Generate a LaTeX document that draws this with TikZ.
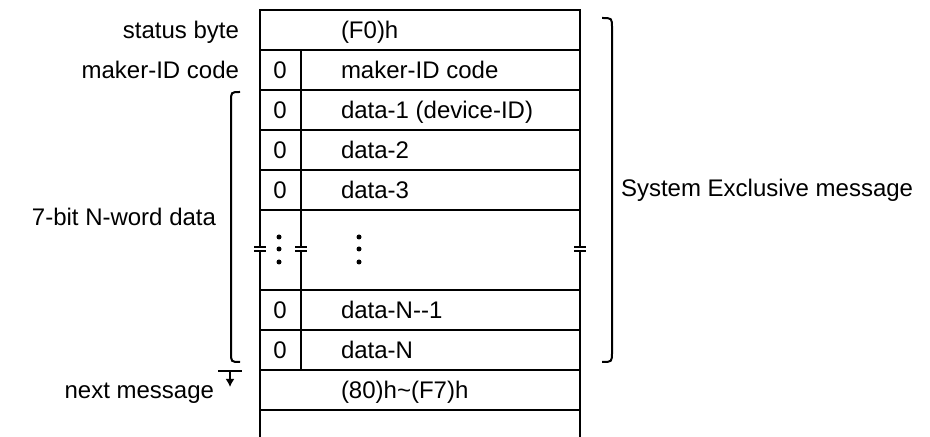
\documentclass[tikz,border=0pt]{standalone}
\usepackage{fontspec}
\setmainfont{Liberation Sans}
\usetikzlibrary{arrows.meta}

\tikzset{
  cell/.style={anchor=west,inner sep=0pt,text height=8.6pt,text depth=0pt},
  bit/.style={inner sep=0pt,text height=8.6pt,text depth=0pt},
  side/.style={anchor=east,inner sep=0pt,text height=8.6pt,text depth=0pt},
}

\begin{document}
\begin{tikzpicture}[x=0.5pt,y=-0.5pt,line width=1pt,font=\fontsize{12}{14}\selectfont]
		\useasboundingbox (0,0) rectangle (930,437);

		% frame with the break
		\draw (260,247) -- (260,10) -- (580,10) -- (580,247);
		\draw (260,251) -- (260,437);
		\draw (580,251) -- (580,437);
		\draw (301,50) -- (301,247);
		\draw (301,251) -- (301,370);

		\foreach \y in {50,90,130,170,210,290,330,370,410}
			\draw (260,\y) -- (580,\y);

		\foreach \x in {260,301,580}{
			\draw (\x-6,247) -- (\x+6,247);
			\draw (\x-6,251) -- (\x+6,251);
		}

		% dots
		\foreach \x in {279,359}
			\foreach \y in {237,249,262}
				\fill (\x,\y) circle (2.5);

		% cells
		\node[cell] (f0) at (340,30) {(F0)h};
		\foreach \y/\t [count=\i] in {70/maker-ID code,110/data-1 (device-ID),150/data-2,190/data-3,310/data-N-{}-1,350/data-N}{
			\node[bit] (bit\i) at (280,\y) {0};
			\node[cell] (word\i) at (340,\y) {\t};
		}
		\node[cell] (eox) at (340,390) {(80)h\textasciitilde(F7)h};

		% labels at the left
		\node[side] (status) at (240,30) {status byte};
		\node[side] (maker) at (240,70) {maker-ID code};
		\node[side] (nword) at (217,217) {7-bit N-word data};
		\node[side] (next) at (215,390) {next message};
		\node[anchor=west,inner sep=0pt] (sysex) at (620,190) {System Exclusive message};

		% braces
		\coordinate (lbrace) at (240,92);
		\coordinate (rbrace) at (602,18);
		\draw (lbrace) .. controls +(-9,0) .. ++(-9,10) -- ++(0,250) .. controls +(0,10) .. ++(9,10);
		\draw (rbrace) .. controls +(10,0) .. ++(10,10) -- ++(0,324) .. controls +(0,10) .. ++(-10,10);

		% next message mark
		\coordinate (nextbar) at (230,371);
		\draw (nextbar) ++(-12,0) -- ++(24,0);
		\draw[-{Latex[length=4pt,width=4.5pt]}] (nextbar) -- ++(0,16);
	\end{tikzpicture}
\end{document}
